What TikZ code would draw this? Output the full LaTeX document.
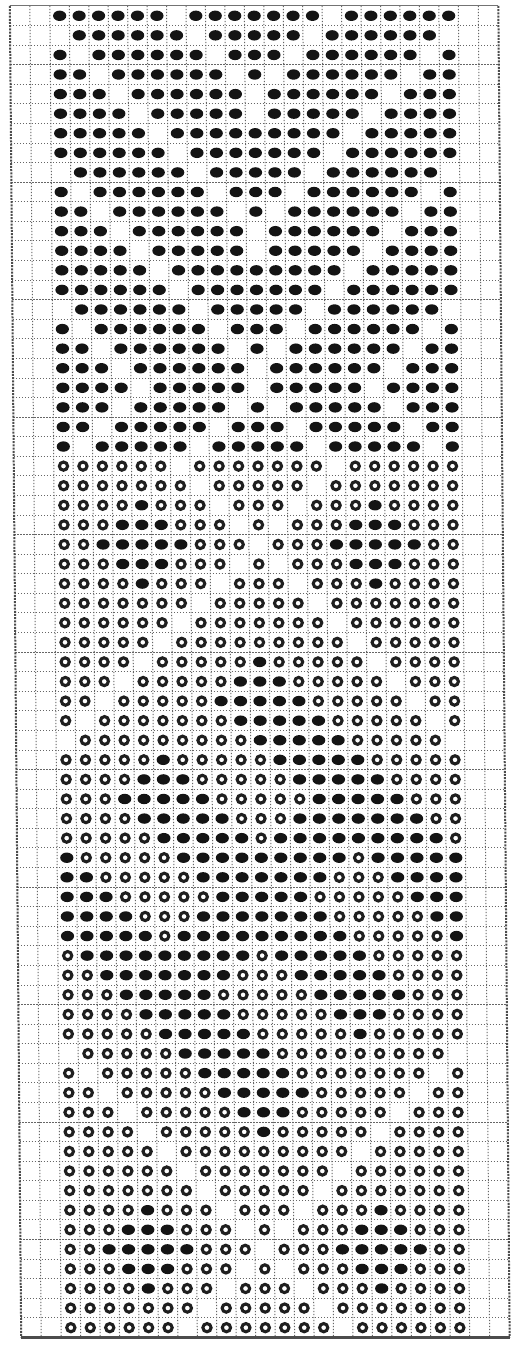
\documentclass[tikz,border=0pt]{standalone}
\begin{document}
\begin{tikzpicture}[x=0.5pt,y={(0.00425pt,-0.5pt)},
  gridline/.style={line width=0.5pt,black!60,dash pattern=on 0.6pt off 0.9pt},
  sideborder/.style={line width=1pt,black!70,dash pattern=on 1pt off 0.6pt},
  topborder/.style={line width=0.5pt,black!55},
  botborder/.style={line width=1.1pt,black!70},
  dotfull/.style={fill=black!92},
  dotopen/.style={draw=black!88,line width=1.55pt}]
\useasboundingbox (0pt,0pt) rectangle (255pt,-673.5pt);
\fill[white] (0pt,0pt) rectangle (255pt,-673.5pt);
% grid
\foreach \k in {0,...,21} \draw[gridline] ({49.8+19.45*\k},6) -- ({49.8+19.45*\k},1337.4);
\draw[gridline] (29.8,6) -- (29.8,1337.4);
\draw[gridline] (478.25,6) -- (478.25,1337.4);
\foreach \k in {1,...,67} \draw[gridline] (9.8,{6+19.58*\k}) -- (498.25,{6+19.58*\k});
% borders
\draw[topborder] (9.8,6) -- (498.25,6);
\draw[sideborder] (9.8,6) -- (9.8,1337.4);
\draw[sideborder] (498.25,6) -- (498.25,1337.4);
\draw[botborder] (9.8,1337.4) -- (498.25,1337.4);
% stitches
\foreach \rowlist [count=\ri] in {
{F,F,F,F,F,F,x,F,F,F,F,F,F,F,x,F,F,F,F,F,F},
{x,F,F,F,F,F,F,x,F,F,F,F,F,x,F,F,F,F,F,F,x},
{F,x,F,F,F,F,F,F,x,F,F,F,x,F,F,F,F,F,F,x,F},
{F,F,x,F,F,F,F,F,F,x,F,x,F,F,F,F,F,F,x,F,F},
{F,F,F,x,F,F,F,F,F,F,x,F,F,F,F,F,F,x,F,F,F},
{F,F,F,F,x,F,F,F,F,F,x,F,F,F,F,F,x,F,F,F,F},
{F,F,F,F,F,x,F,F,F,F,F,F,F,F,F,x,F,F,F,F,F},
{F,F,F,F,F,F,x,F,F,F,F,F,F,F,x,F,F,F,F,F,F},
{x,F,F,F,F,F,F,x,F,F,F,F,F,x,F,F,F,F,F,F,x},
{F,x,F,F,F,F,F,F,x,F,F,F,x,F,F,F,F,F,F,x,F},
{F,F,x,F,F,F,F,F,F,x,F,x,F,F,F,F,F,F,x,F,F},
{F,F,F,x,F,F,F,F,F,F,x,F,F,F,F,F,F,x,F,F,F},
{F,F,F,F,x,F,F,F,F,F,x,F,F,F,F,F,x,F,F,F,F},
{F,F,F,F,F,x,F,F,F,F,F,F,F,F,F,x,F,F,F,F,F},
{F,F,F,F,F,F,x,F,F,F,F,F,F,F,x,F,F,F,F,F,F},
{x,F,F,F,F,F,F,x,F,F,F,F,F,x,F,F,F,F,F,F,x},
{F,x,F,F,F,F,F,F,x,F,F,F,x,F,F,F,F,F,F,x,F},
{F,F,x,F,F,F,F,F,F,x,F,x,F,F,F,F,F,F,x,F,F},
{F,F,F,x,F,F,F,F,F,F,x,F,F,F,F,F,F,x,F,F,F},
{F,F,F,F,x,F,F,F,F,F,x,F,F,F,F,F,x,F,F,F,F},
{F,F,F,x,F,F,F,F,F,x,F,x,F,F,F,F,F,x,F,F,F},
{F,F,x,F,F,F,F,F,x,F,F,F,x,F,F,F,F,F,x,F,F},
{F,x,F,F,F,F,F,x,F,F,F,F,F,x,F,F,F,F,F,x,F},
{O,O,O,O,O,O,x,O,O,O,O,O,O,O,x,O,O,O,O,O,O},
{O,O,O,O,O,O,O,x,O,O,O,O,O,x,O,O,O,O,O,O,O},
{O,O,O,O,F,O,O,O,x,O,O,O,x,O,O,O,F,O,O,O,O},
{O,O,O,F,F,F,O,O,O,x,O,x,O,O,O,F,F,F,O,O,O},
{O,O,F,F,F,F,F,O,O,O,x,O,O,O,F,F,F,F,F,O,O},
{O,O,O,F,F,F,O,O,O,x,O,x,O,O,O,F,F,F,O,O,O},
{O,O,O,O,F,O,O,O,x,O,O,O,x,O,O,O,F,O,O,O,O},
{O,O,O,O,O,O,O,x,O,O,O,O,O,x,O,O,O,O,O,O,O},
{O,O,O,O,O,O,x,O,O,O,O,O,O,O,x,O,O,O,O,O,O},
{O,O,O,O,O,x,O,O,O,O,O,O,O,O,O,x,O,O,O,O,O},
{O,O,O,O,x,O,O,O,O,O,F,O,O,O,O,O,x,O,O,O,O},
{O,O,O,x,O,O,O,O,O,F,F,F,O,O,O,O,O,x,O,O,O},
{O,O,x,O,O,O,O,O,F,F,F,F,F,O,O,O,O,O,x,O,O},
{O,x,O,O,O,O,O,O,O,F,F,F,F,F,O,O,O,O,O,x,O},
{x,O,O,O,O,O,O,O,O,O,F,F,F,F,F,O,O,O,O,O,x},
{O,O,O,O,O,F,O,O,O,O,O,F,F,F,F,F,O,O,O,O,O},
{O,O,O,O,F,F,F,O,O,O,O,O,F,F,F,F,F,O,O,O,O},
{O,O,O,F,F,F,F,F,O,O,O,O,O,F,F,F,F,F,O,O,O},
{O,O,O,O,F,F,F,F,F,O,O,O,F,F,F,F,F,F,F,O,O},
{O,O,O,O,O,F,F,F,F,F,O,F,F,F,F,F,F,F,F,F,O},
{F,O,O,O,O,O,F,F,F,F,F,F,F,F,F,O,F,F,F,F,F},
{F,F,O,O,O,O,O,F,F,F,F,F,F,F,O,O,O,F,F,F,F},
{F,F,F,O,O,O,O,O,F,F,F,F,F,O,O,O,O,O,F,F,F},
{F,F,F,F,O,O,O,F,F,F,F,F,F,F,O,O,O,O,O,F,F},
{F,F,F,F,F,O,F,F,F,F,F,F,F,F,F,O,O,O,O,O,F},
{O,F,F,F,F,F,F,F,F,F,O,F,F,F,F,F,O,O,O,O,O},
{O,O,F,F,F,F,F,F,F,O,O,O,F,F,F,F,F,O,O,O,O},
{O,O,O,F,F,F,F,F,O,O,O,O,O,F,F,F,F,F,O,O,O},
{O,O,O,O,F,F,F,F,F,O,O,O,O,O,F,F,F,O,O,O,O},
{O,O,O,O,O,F,F,F,F,F,O,O,O,O,O,F,O,O,O,O,O},
{x,O,O,O,O,O,F,F,F,F,F,O,O,O,O,O,O,O,O,O,x},
{O,x,O,O,O,O,O,F,F,F,F,F,O,O,O,O,O,O,O,x,O},
{O,O,x,O,O,O,O,O,F,F,F,F,F,O,O,O,O,O,x,O,O},
{O,O,O,x,O,O,O,O,O,F,F,F,O,O,O,O,O,x,O,O,O},
{O,O,O,O,x,O,O,O,O,O,F,O,O,O,O,O,x,O,O,O,O},
{O,O,O,O,O,x,O,O,O,O,O,O,O,O,O,x,O,O,O,O,O},
{O,O,O,O,O,O,x,O,O,O,O,O,O,O,x,O,O,O,O,O,O},
{O,O,O,O,O,O,O,x,O,O,O,O,O,x,O,O,O,O,O,O,O},
{O,O,O,O,F,O,O,O,x,O,O,O,x,O,O,O,F,O,O,O,O},
{O,O,O,F,F,F,O,O,O,x,O,x,O,O,O,F,F,F,O,O,O},
{O,O,F,F,F,F,F,O,O,O,x,O,O,O,F,F,F,F,F,O,O},
{O,O,O,F,F,F,O,O,O,x,O,x,O,O,O,F,F,F,O,O,O},
{O,O,O,O,F,O,O,O,x,O,O,O,x,O,O,O,F,O,O,O,O},
{O,O,O,O,O,O,O,x,O,O,O,O,O,x,O,O,O,O,O,O,O},
{O,O,O,O,O,O,x,O,O,O,O,O,O,O,x,O,O,O,O,O,O}} {
  \foreach \cell [count=\ci] in \rowlist {
    \if\cell F\fill[dotfull] ({49.8+19.45*(\ci-0.5)},{6+19.58*(\ri-0.5)}) ellipse [x radius=3.3pt, y radius=2.6pt];\fi
    \if\cell O\draw[dotopen] ({49.8+19.45*(\ci-0.5)},{6+19.58*(\ri-0.5)}) circle [radius=2.05pt];\fi
  }
}
\end{tikzpicture}
\end{document}
